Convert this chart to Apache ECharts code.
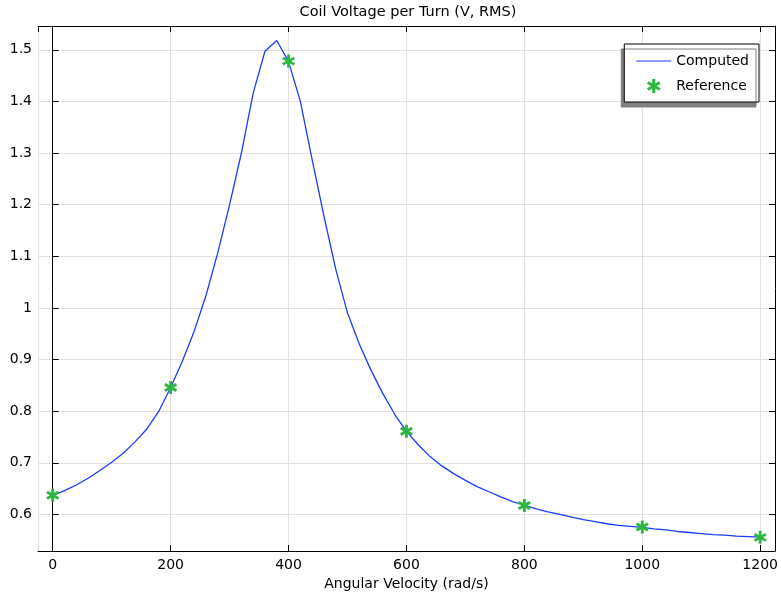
<!DOCTYPE html>
<html lang="en">
  <head>
    <meta charset="UTF-8" />
    <title>Coil Voltage</title>
    <script src="https://cdn.jsdelivr.net/npm/echarts@6/dist/echarts.min.js"></script>
    <style>
      * {
        margin: 0;
        padding: 0;
      }
      html,
      body {
        background: #fff;
      }
    </style>
  </head>
  <body>
    <div id="charts" style="width: 781px; height: 596px"></div>
    <script>
      // computed curve, angular velocity (rad/s) -> voltage per turn
      var omega = [
        0, 20, 40, 60, 80, 100, 120, 140, 160, 180, 200, 220, 240, 260, 280,
        300, 320, 340, 360, 380, 400, 420, 440, 460, 480, 500, 520, 540, 560,
        580, 600, 620, 640, 660, 680, 700, 720, 740, 760, 780, 800, 820, 840,
        860, 880, 900, 920, 940, 960, 980, 1000, 1020, 1040, 1060, 1080, 1100,
        1120, 1140, 1160, 1180, 1200,
      ];
      var voltage = [
        0.637, 0.646, 0.657, 0.67, 0.685, 0.701, 0.719, 0.741, 0.766, 0.8,
        0.846, 0.897, 0.955, 1.024, 1.107, 1.2, 1.3, 1.416, 1.497, 1.518,
        1.477, 1.4, 1.287, 1.178, 1.075, 0.99, 0.93, 0.879, 0.834, 0.794,
        0.761, 0.735, 0.712, 0.694, 0.679, 0.666, 0.654, 0.644, 0.634, 0.625,
        0.618, 0.611, 0.605, 0.6, 0.595, 0.59, 0.586, 0.582, 0.579, 0.577,
        0.575, 0.572, 0.57, 0.567, 0.565, 0.563, 0.561, 0.56, 0.558, 0.557,
        0.556,
      ];
      // reference points
      var refOmega = [0, 200, 400, 600, 800, 1000, 1200];
      var refVoltage = [0.637, 0.846, 1.478, 0.761, 0.6175, 0.5755, 0.5556];

      var font = "DejaVu Sans";
      var star =
        "path://M-1.3,6L-1.3,-6L1.3,-6L1.3,6Z" +
        "M4.546,4.126L-5.846,-1.874L-4.546,-4.126L5.846,1.874Z" +
        "M-5.846,1.874L4.546,-4.126L5.846,-1.874L-4.546,4.126Z";

      var computed = omega.map(function (w, i) {
        return [w, voltage[i]];
      });
      var reference = refOmega.map(function (w, i) {
        return [w, refVoltage[i]];
      });

      var xRange = { min: -25, max: 1225, splitNumber: 6 };
      var yRange = { min: 0.529, max: 1.546, splitNumber: 10 };

      function plain(v) {
        return String(v);
      }

      var myEcharts = echarts.init(document.getElementById("charts"));
      var options = {
        animation: false,
        backgroundColor: "#fff",
        title: {
          text: "Coil Voltage per Turn (V, RMS)",
          left: 408,
          top: 5,
          padding: 0,
          textAlign: "center",
          textStyle: {
            fontFamily: font,
            fontSize: 14.5,
            fontWeight: "normal",
            color: "#000",
          },
        },
        grid: { left: 38, right: 3, top: 26, bottom: 44 },
        legend: {
          orient: "vertical",
          right: 22,
          top: 44,
          padding: [10, 10, 9, 12],
          itemWidth: 35,
          itemHeight: 14,
          itemGap: 11,
          backgroundColor: "#fff",
          borderColor: "#000",
          borderWidth: 1,
          borderRadius: 0,
          shadowColor: "#808080",
          shadowBlur: 0,
          shadowOffsetX: -3,
          shadowOffsetY: 5,
          textStyle: { fontFamily: font, fontSize: 14, color: "#000" },
          data: [
            { name: "Computed", icon: "path://M0,0L35,0L35,1.2L0,1.2Z" },
            "Reference",
          ],
        },
        xAxis: [
          {
            type: "value",
            min: xRange.min,
            max: xRange.max,
            splitNumber: xRange.splitNumber,
            name: "Angular Velocity (rad/s)",
            nameLocation: "middle",
            nameGap: 22,
            nameTextStyle: { fontFamily: font, fontSize: 14, color: "#000" },
            axisLine: { show: true, lineStyle: { color: "#000", width: 1 } },
            axisTick: {
              show: true,
              inside: true,
              length: 6,
              lineStyle: { color: "#000" },
            },
            axisLabel: {
              showMinLabel: false,
              showMaxLabel: false,
              margin: 7,
              formatter: plain,
              fontFamily: font,
              fontSize: 14,
              color: "#000",
            },
            splitLine: { show: true, lineStyle: { color: "#e0e0e0", width: 1 } },
          },
          {
            type: "value",
            position: "top",
            min: xRange.min,
            max: xRange.max,
            splitNumber: xRange.splitNumber,
            axisLine: { show: true, onZero: false, lineStyle: { color: "#000", width: 1 } },
            axisTick: {
              show: true,
              inside: true,
              length: 6,
              lineStyle: { color: "#000" },
            },
            axisLabel: { show: false },
            splitLine: { show: false },
          },
        ],
        yAxis: [
          {
            type: "value",
            min: yRange.min,
            max: yRange.max,
            splitNumber: yRange.splitNumber,
            axisLine: { show: true, lineStyle: { color: "#000", width: 1 } },
            axisTick: {
              show: true,
              inside: true,
              length: 6,
              lineStyle: { color: "#000" },
            },
            axisLabel: {
              showMinLabel: false,
              showMaxLabel: false,
              margin: 6,
              formatter: plain,
              fontFamily: font,
              fontSize: 14,
              color: "#000",
            },
            splitLine: { show: true, lineStyle: { color: "#e0e0e0", width: 1 } },
          },
          {
            type: "value",
            position: "right",
            min: yRange.min,
            max: yRange.max,
            splitNumber: yRange.splitNumber,
            axisLine: { show: true, onZero: false, lineStyle: { color: "#000", width: 1 } },
            axisTick: {
              show: true,
              inside: true,
              length: 6,
              lineStyle: { color: "#000" },
            },
            axisLabel: { show: false },
            splitLine: { show: false },
          },
        ],
        series: [
          {
            name: "Computed",
            type: "line",
            data: computed,
            showSymbol: false,
            symbol: "none",
            lineStyle: { color: "#1a3cff", width: 1.3 },
            itemStyle: { color: "#1a3cff" },
          },
          {
            name: "Reference",
            type: "scatter",
            data: reference,
            symbol: star,
            symbolSize: 13,
            itemStyle: { color: "#2bb840", opacity: 1 },
            z: 5,
          },
        ],
      };
      myEcharts.setOption(options);
    </script>
  </body>
</html>
